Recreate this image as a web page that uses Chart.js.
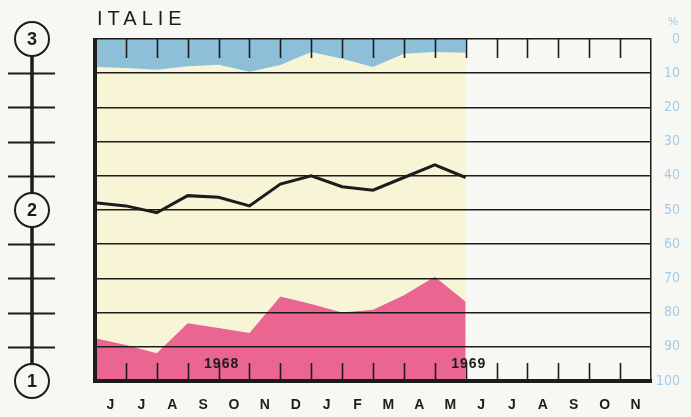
<!DOCTYPE html>
<html>
<head>
<meta charset="utf-8">
<script src="https://cdn.jsdelivr.net/npm/chart.js@4.4.1/dist/chart.umd.min.js"></script>
<style>
  html, body { margin: 0; padding: 0; background: #f7f7f4; }
  #wrap { width: 691px; height: 417px; }
</style>
</head>
<body>
<div id="wrap"><canvas id="italie-chart" width="691" height="417"></canvas></div>
<script>
/* ----------------------------
   DATA
   One value per month boundary, June 1968 -> June 1969.
   All series read on the 0-100 % scale (0 at top).
   ---------------------------- */
var months     = ["J", "J", "A", "S", "O", "N", "D", "J", "F", "M", "A", "M", "J", "J", "A", "S", "O", "N"];
var blueTop    = [8.2, 8.5, 9.0, 8.0, 7.5, 9.6, 7.6, 3.8, 5.8, 8.2, 4.3, 3.8, 4.0];
var blackLine  = [47.9, 48.8, 50.8, 45.8, 46.3, 48.8, 42.4, 40.0, 43.2, 44.2, 40.5, 36.8, 40.5];
var pinkTop    = [87.5, 89.5, 91.9, 83.1, 84.5, 86.0, 75.3, 77.5, 80.0, 79.2, 74.9, 69.5, 76.8];
var leftLabels = ["1", "2", "3"];
var yearLabels = ["1968", "1969"];
var titleText  = "ITALIE";

var INK = "#1c1c1c";
var FONT = "'Liberation Sans', Arial, sans-serif";

function toPoints(arr) {
  return arr.map(function (v, i) { return { x: i, y: v }; });
}

/* ----------------------------
   DECORATION PLUGIN
   Frame, month tick marks, year labels, left 1-2-3 scale, title.
   ---------------------------- */
var decorPlugin = {
  id: "decor",
  afterDraw: function (chart) {
    var ctx = chart.ctx;
    var area = chart.chartArea;
    var xs = chart.scales.x;
    var yl = chart.scales.yl;
    var y = chart.scales.y;
    var i, px;

    ctx.save();

    // thick left border
    ctx.strokeStyle = INK;
    ctx.lineWidth = 4;
    ctx.beginPath();
    ctx.moveTo(area.left, area.top - 1);
    ctx.lineTo(area.left, area.bottom + 2);
    ctx.stroke();

    // month tick marks, top and bottom
    ctx.lineWidth = 1.6;
    for (i = 1; i < months.length; i++) {
      px = Math.round(xs.getPixelForValue(i)) + 0.5;
      ctx.beginPath();
      ctx.moveTo(px, area.top);
      ctx.lineTo(px, area.top + 19);
      ctx.moveTo(px, area.bottom);
      ctx.lineTo(px, area.bottom - 18);
      ctx.stroke();
    }

    // year labels
    ctx.fillStyle = INK;
    ctx.font = "bold 14px " + FONT;
    ctx.textAlign = "center";
    ctx.textBaseline = "middle";
    ctx.letterSpacing = "1px";
    ctx.fillText(yearLabels[0], xs.getPixelForValue(4.1), area.bottom - 17);
    ctx.fillText(yearLabels[1], xs.getPixelForValue(12.1), area.bottom - 17);

    // left 1-2-3 scale
    var cx = 32;
    var r = 17;
    ctx.letterSpacing = "0px";
    ctx.lineWidth = 3.5;
    ctx.beginPath();
    ctx.moveTo(cx, yl.getPixelForValue(3) + r);
    ctx.lineTo(cx, yl.getPixelForValue(1) - r);
    ctx.stroke();
    ctx.lineWidth = 2;
    for (var v = 1.2; v < 3; v += 0.2) {
      if (Math.abs(v - 2) < 0.01) { continue; }
      px = Math.round(yl.getPixelForValue(v)) + 0.5;
      ctx.beginPath();
      ctx.moveTo(8, px);
      ctx.lineTo(55, px);
      ctx.stroke();
    }
    ctx.font = "bold 18px " + FONT;
    for (i = 0; i < leftLabels.length; i++) {
      var cy = yl.getPixelForValue(i + 1);
      ctx.beginPath();
      ctx.arc(cx, cy, r, 0, Math.PI * 2);
      ctx.fillStyle = "#f7f7f4";
      ctx.fill();
      ctx.lineWidth = 2;
      ctx.stroke();
      ctx.fillStyle = INK;
      ctx.fillText(leftLabels[i], cx, cy + 1);
    }

    // title
    ctx.font = "20px " + FONT;
    ctx.textAlign = "left";
    ctx.textBaseline = "alphabetic";
    ctx.letterSpacing = "5px";
    ctx.fillText(titleText, 97, 25);

    // % sign over the right scale
    ctx.letterSpacing = "0px";
    ctx.font = "11px " + FONT;
    ctx.fillStyle = "#a5cbe6";
    ctx.textAlign = "right";
    ctx.textBaseline = "middle";
    ctx.fillText("%", y.right - 2, y.getPixelForValue(0) - 17);

    ctx.restore();
  }
};

var canvas = document.getElementById("italie-chart");
var ctx = canvas.getContext("2d");

var italieChart = new Chart(ctx, {
  type: "line",
  data: {
    datasets: [
      {
        label: "blue",
        data: toPoints(blueTop),
        borderWidth: 0,
        pointRadius: 0,
        backgroundColor: "#8dbfd8",
        fill: { value: 0 },
        order: 3
      },
      {
        label: "pink",
        data: toPoints(pinkTop),
        borderWidth: 0,
        pointRadius: 0,
        backgroundColor: "#ea6590",
        fill: { value: 100 },
        order: 3
      },
      {
        label: "cream",
        data: toPoints(pinkTop),
        borderWidth: 0,
        pointRadius: 0,
        backgroundColor: "#f7f5d6",
        fill: 0,
        order: 4
      },
      {
        label: "index",
        data: toPoints(blackLine),
        borderColor: INK,
        borderWidth: 3,
        pointRadius: 0,
        fill: false,
        tension: 0,
        order: 1
      }
    ]
  },
  options: {
    responsive: false,
    animation: false,
    events: [],
    layout: { padding: { top: 39, left: 95, right: 11, bottom: 0 } },
    plugins: {
      legend: { display: false },
      tooltip: { enabled: false }
    },
    scales: {
      x: {
        type: "linear",
        min: 0,
        max: 18,
        afterFit: function (scale) { scale.height = 36; },
        grid: { display: false, drawTicks: false },
        border: { display: true, color: INK, width: 4, z: 1 },
        ticks: {
          stepSize: 0.5,
          autoSkip: false,
          maxRotation: 0,
          maxTicksLimit: 100,
          padding: 16,
          color: INK,
          font: { family: FONT, size: 14, weight: "bold" },
          callback: function (v) {
            return (v % 1 === 0.5) ? months[Math.floor(v)] : "";
          }
        }
      },
      y: {
        type: "linear",
        position: "right",
        min: 0,
        max: 100,
        reverse: true,
        afterFit: function (scale) { scale.width = 29; },
        grid: { color: INK, lineWidth: 1.5, drawTicks: false, z: 1 },
        border: { display: true, color: INK, width: 1.5, z: 1 },
        ticks: {
          stepSize: 10,
          crossAlign: "far",
          padding: 5,
          color: "#a5cbe6",
          font: { family: "'DejaVu Sans Condensed', 'Liberation Sans', sans-serif", size: 14 }
        }
      },
      yl: {
        type: "linear",
        position: "left",
        display: false,
        min: 1,
        max: 3
      }
    }
  },
  plugins: [decorPlugin]
});
</script>
</body>
</html>
